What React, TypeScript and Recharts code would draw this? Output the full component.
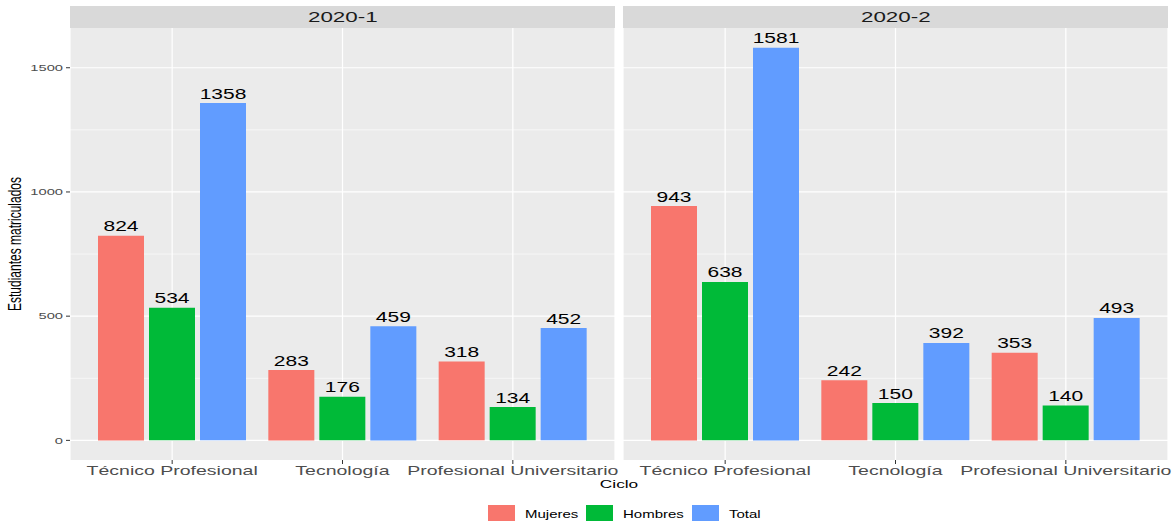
import React from "react";
import { BarChart, Bar, XAxis, YAxis, CartesianGrid, LabelList } from "recharts";

const categories = ["Técnico Profesional", "Tecnología", "Profesional Universitario"];
const periods = ["2020-1", "2020-2"];
const mujeres20201 = [824, 283, 318];
const hombres20201 = [534, 176, 134];
const total20201 = [1358, 459, 452];
const mujeres20202 = [943, 242, 353];
const hombres20202 = [638, 150, 140];
const total20202 = [1581, 392, 493];
const seriesNames = ["Mujeres", "Hombres", "Total"];
const seriesKeys = ["m", "h", "t"];
const seriesColors = ["#F8766D", "#00BA38", "#619CFF"];
const yTicks = [0, 500, 1000, 1500];
const yMinor = [250, 750, 1250];
const yDomain = [-79, 1660];

const build = (m: number[], h: number[], t: number[]) =>
  categories.map((c, i) => ({ cat: c, m: m[i], h: h[i], t: t[i] }));

const panels = [
  { title: periods[0], data: build(mujeres20201, hombres20201, total20201) },
  { title: periods[1], data: build(mujeres20202, hombres20202, total20202) },
];

const S = 1.5;
const FONT = '"Liberation Sans", Arial, Helvetica, sans-serif';

const XTick = (props: any) => {
  const { x, y, payload } = props;
  return (
    <text
      transform={`translate(${x},${y + 8.5}) scale(${S},1)`}
      textAnchor="middle"
      fontSize={13}
      fill="#4D4D4D"
      fontFamily={FONT}
    >
      {payload.value}
    </text>
  );
};

const YTick = (props: any) => {
  const { x, y, payload } = props;
  return (
    <text
      transform={`translate(${x},${y + 3.3}) scale(1.6,1)`}
      textAnchor="end"
      fontSize={9.2}
      fill="#4D4D4D"
      fontFamily={FONT}
    >
      {payload.value}
    </text>
  );
};

const BarLabel = (props: any) => {
  const vb = props.viewBox || {};
  const x = Number(props.x ?? vb.x);
  const y = Number(props.y ?? vb.y);
  const w = Number(props.width ?? vb.width);
  return (
    <text
      transform={`translate(${x + w / 2},${y - 4.5}) scale(${S},1)`}
      textAnchor="middle"
      fontSize={14}
      fill="#000000"
      fontFamily={FONT}
    >
      {props.value}
    </text>
  );
};

const Panel = ({ data, first }: { data: any[]; first: boolean }) => (
  <BarChart
    width={first ? 619 : 556}
    height={521}
    data={data}
    margin={{ top: 28, right: first ? 4 : 7, left: first ? 0 : 4, bottom: 31 }}
    barSize={46}
    barGap={5}
  >
    <CartesianGrid
      fill="#EBEBEB"
      stroke="#FFFFFF"
      strokeWidth={0.6}
      horizontalValues={yMinor}
      vertical={false}
    />
    <CartesianGrid
      stroke="#FFFFFF"
      strokeWidth={1.2}
      horizontalValues={yTicks}
    />
    <XAxis
      dataKey="cat"
      padding={{ left: 17, right: 17 }}
      axisLine={false}
      tickLine={{ stroke: "#333333", strokeWidth: 1 }}
      tickSize={4}
      tick={<XTick />}
      height={30}
      interval={0}
    />
    <YAxis
      type="number"
      domain={yDomain}
      ticks={yTicks}
      allowDataOverflow
      hide={!first}
      width={70}
      axisLine={false}
      tickLine={{ stroke: "#333333", strokeWidth: 1 }}
      tickSize={4}
      tickMargin={3}
      tick={<YTick />}
      interval={0}
    />
    {seriesKeys.map((k, i) => (
      <Bar key={k} dataKey={k} name={seriesNames[i]} fill={seriesColors[i]} isAnimationActive={false}>
        <LabelList dataKey={k} content={<BarLabel />} />
      </Bar>
    ))}
  </BarChart>
);

const stripStyle = (left: number): React.CSSProperties => ({
  position: "absolute",
  left,
  top: 6,
  width: 545,
  height: 22,
  background: "#D9D9D9",
  display: "flex",
  alignItems: "center",
  justifyContent: "center",
  fontFamily: FONT,
  fontSize: 14,
  color: "#1A1A1A",
});

const legendSquares = [488, 586, 692];

export default function App() {
  return (
    <div
      style={{
        position: "absolute",
        left: 0,
        top: 0,
        width: 1175,
        height: 521,
        background: "#FFFFFF",
        overflow: "hidden",
        fontFamily: FONT,
      }}
    >
      <div style={{ position: "absolute", left: 0, top: 0 }}>
        <Panel data={panels[0].data} first={true} />
      </div>
      <div style={{ position: "absolute", left: 619, top: 0 }}>
        <Panel data={panels[1].data} first={false} />
      </div>
      {panels.map((p, i) => (
        <div key={p.title} style={stripStyle(i === 0 ? 70 : 623)}>
          <span style={{ display: "inline-block", transform: "scaleX(1.6)", lineHeight: "14px" }}>{p.title}</span>
        </div>
      ))}
      <svg
        width={1175}
        height={521}
        style={{ position: "absolute", left: 0, top: 0, pointerEvents: "none" }}
      >
        <text
          transform={`translate(21,244) scale(${S},1) rotate(-90)`}
          textAnchor="middle"
          fontSize={12}
          fill="#000000"
          fontFamily={FONT}
        >
          Estudiantes matriculados
        </text>
        <text
          transform={`translate(619,488) scale(${S},1)`}
          textAnchor="middle"
          fontSize={11.5}
          fill="#000000"
          fontFamily={FONT}
        >
          Ciclo
        </text>
        {seriesNames.map((n, i) => (
          <g key={n}>
            <rect x={legendSquares[i]} y={505} width={27} height={17} fill={seriesColors[i]} />
            <text
              transform={`translate(${legendSquares[i] + 37},518) scale(${S},1)`}
              fontSize={10}
              fill="#000000"
              fontFamily={FONT}
            >
              {n}
            </text>
          </g>
        ))}
      </svg>
    </div>
  );
}
